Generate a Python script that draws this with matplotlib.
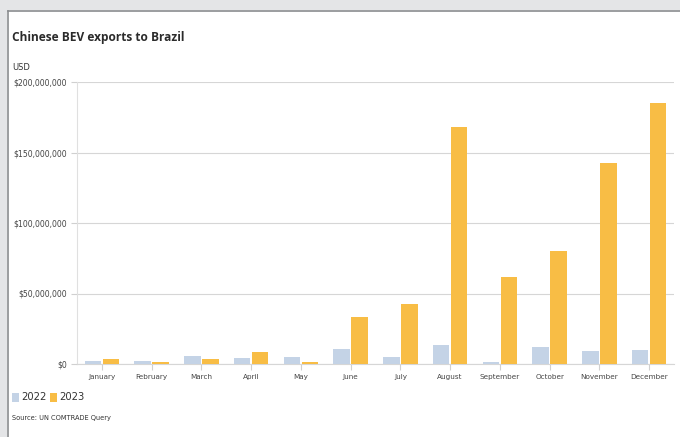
import numpy as np
import matplotlib.pyplot as plt
from matplotlib.patches import Rectangle
from matplotlib.lines import Line2D
from matplotlib.ticker import FuncFormatter

months = ["January", "February", "March", "April", "May", "June", "July",
          "August", "September", "October", "November", "December"]
exports_2022 = [2.0, 2.0, 6.0, 4.5, 5.2, 10.9, 4.7, 13.2, 1.2, 12.3, 9.0, 10.0]   # USD millions
exports_2023 = [3.7, 1.5, 3.7, 8.4, 1.3, 33.5, 42.5, 168.0, 61.7, 80.0, 142.5, 185.0]
yticks = [0, 50e6, 100e6, 150e6, 200e6]

c22 = "#c4d3e6"
c23 = "#f8bd45"

fig = plt.figure(figsize=(6.8, 4.37), dpi=100)
fig.patch.set_facecolor("white")

# gray screenshot frame
W, H = 680, 437
fig.patches.append(Rectangle((0, 1 - 10 / H), 1, 10 / H, transform=fig.transFigure,
                             facecolor="#e4e5e7", edgecolor="none", zorder=0))
fig.patches.append(Rectangle((0, 0), 7 / W, 1, transform=fig.transFigure,
                             facecolor="#e4e5e7", edgecolor="none", zorder=0))
fig.lines.append(Line2D([7.5 / W, 1], [1 - 10.5 / H, 1 - 10.5 / H], transform=fig.transFigure,
                        color="#8a8c8f", lw=1.2))
fig.lines.append(Line2D([7.5 / W, 7.5 / W], [0, 1 - 10.5 / H], transform=fig.transFigure,
                        color="#8a8c8f", lw=1.2))

ax = fig.add_axes([77 / W, 1 - 364 / H, (674 - 77) / W, (364 - 82) / H])
x = np.arange(len(months))
w = 0.33
ax.bar(x - 0.18, np.array(exports_2022) * 1e6, width=w, color=c22, zorder=3)
ax.bar(x + 0.18, np.array(exports_2023) * 1e6, width=w, color=c23, zorder=3)

ax.set_xlim(-0.5, len(months) - 0.5)
ax.set_ylim(0, 200e6)
ax.set_yticks(yticks)
ax.yaxis.set_major_formatter(FuncFormatter(lambda v, p: "${:,.0f}".format(v)))
ax.set_xticks(x)
ax.set_xticklabels(months, fontsize=5.2, color="#444444")
ax.tick_params(axis="y", labelsize=5.6, labelcolor="#444444", length=4, color="#d0d0d0", width=0.8, pad=3)
ax.tick_params(axis="x", length=4, color="#d0d0d0", width=0.8, pad=3)
ax.grid(axis="y", color="#d6d6d6", lw=0.8, zorder=0)
for s in ["top", "right"]:
    ax.spines[s].set_visible(False)
ax.spines["left"].set_color("#e0e0e0")
ax.spines["bottom"].set_color("#d6d6d6")
ax.spines["left"].set_linewidth(0.8)
ax.spines["bottom"].set_linewidth(0.8)

fig.text(12 / W, 1 - 38 / H, "Chinese BEV exports to Brazil", fontsize=8.6, fontweight="bold",
         color="#2b2b2b", va="center", family="Open Sans")
fig.text(12 / W, 1 - 68 / H, "USD", fontsize=6.0, color="#333333", va="center")

# legend
fig.patches.append(Rectangle((12 / W, 1 - 402 / H), 7 / W, 9 / H, transform=fig.transFigure,
                             facecolor=c22, edgecolor="none"))
fig.text(21 / W, 1 - 397.5 / H, "2022", fontsize=7.2, color="#333333", va="center")
fig.patches.append(Rectangle((50 / W, 1 - 402 / H), 7 / W, 9 / H, transform=fig.transFigure,
                             facecolor=c23, edgecolor="none"))
fig.text(59 / W, 1 - 397.5 / H, "2023", fontsize=7.2, color="#333333", va="center")

fig.text(12 / W, 1 - 418 / H, "Source: UN COMTRADE Query", fontsize=4.8, color="#333333", va="center")

fig.savefig("out.png", dpi=100)
